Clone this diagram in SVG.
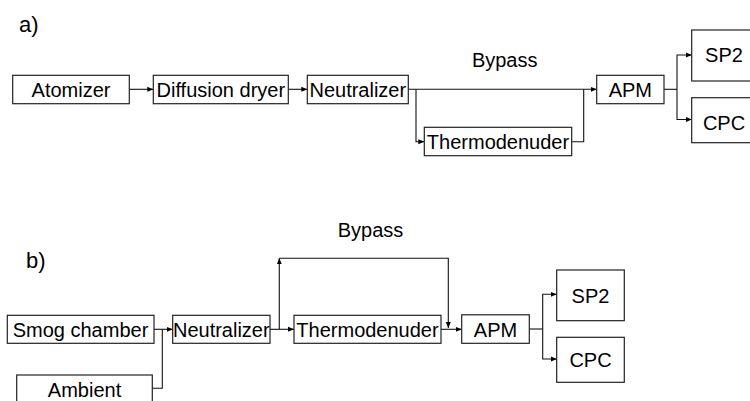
<svg xmlns="http://www.w3.org/2000/svg" width="750" height="401" viewBox="0 0 750 401">
<style>
.box{fill:#fff;stroke:#222;stroke-width:1.2}
.t{font-family:"Liberation Sans",Arial,sans-serif;font-size:20px;fill:#000;text-anchor:middle}
.lbl{font-family:"Liberation Sans",Arial,sans-serif;font-size:22px;fill:#000}
.c{fill:none;stroke:#111;stroke-width:1.1}
</style>
<defs>
<marker id="ah" markerUnits="userSpaceOnUse" markerWidth="6" markerHeight="6" refX="6" refY="3" orient="auto">
<path d="M0,0.5 L6,3 L0,5.5 z" fill="#000"/>
</marker>
</defs>
<rect width="750" height="401" fill="#fff"/>
<text class="lbl" x="19" y="31.5">a)</text>
<text class="lbl" x="26" y="268">b)</text>
<g id="connectors">
<path class="c" d="M129.3,89.3 H153.3" marker-end="url(#ah)"/>
<path class="c" d="M288.3,89.3 H307.3" marker-end="url(#ah)"/>
<path class="c" d="M408.3,89.3 H596.7" marker-end="url(#ah)"/>
<path class="c" d="M416,89.3 V141.7 H424.3" marker-end="url(#ah)"/>
<path class="c" d="M571.7,141.7 H583.7 V89.3"/>
<path class="c" d="M664,89.3 H677"/>
<path class="c" d="M677,89.3 V55 H691.7" marker-end="url(#ah)"/>
<path class="c" d="M677,89.3 V119.5 H691.7" marker-end="url(#ah)"/>
<text class="t" x="504.7" y="66.7">Bypass</text>
<path class="c" d="M154,329.3 H172.7" marker-end="url(#ah)"/>
<path class="c" d="M152.3,388.3 H162.3 V329.3"/>
<path class="c" d="M270,329.3 H294" marker-end="url(#ah)"/>
<path class="c" d="M279.3,329.3 V258.3" marker-end="url(#ah)"/>
<path class="c" d="M279.3,258.3 H448.3 V328" marker-end="url(#ah)"/>
<path class="c" d="M441,329.3 H461.7" marker-end="url(#ah)"/>
<path class="c" d="M529.3,329 H542.7"/>
<path class="c" d="M542.7,329 V294.3 H556.7" marker-end="url(#ah)"/>
<path class="c" d="M542.7,329 V359 H556.7" marker-end="url(#ah)"/>
<text class="t" x="370.5" y="237">Bypass</text>
</g>
<g id="a-atomizer"><rect class="box" x="12.7" y="75.3" width="116.6" height="28.4"/><text class="t" x="71" y="96.7">Atomizer</text></g>
<g id="a-dryer"><rect class="box" x="153.3" y="75.3" width="135" height="28.4"/><text class="t" x="220.8" y="96.7">Diffusion dryer</text></g>
<g id="a-neutralizer"><rect class="box" x="307.3" y="75.3" width="101" height="28.4"/><text class="t" x="357.8" y="96.7">Neutralizer</text></g>
<g id="a-thermodenuder"><rect class="box" x="424.3" y="127.3" width="147.4" height="28.4"/><text class="t" x="498" y="148.7">Thermodenuder</text></g>
<g id="a-apm"><rect class="box" x="596.7" y="75.3" width="67.3" height="28.4"/><text class="t" x="630.3" y="96.7">APM</text></g>
<g id="a-sp2"><rect class="box" x="691.7" y="30" width="70" height="51"/><text class="t" x="724" y="61.7">SP2</text></g>
<g id="a-cpc"><rect class="box" x="691.7" y="97.7" width="70" height="45"/><text class="t" x="724" y="129.5">CPC</text></g>
<g id="b-smog"><rect class="box" x="7.3" y="315.3" width="146.7" height="28"/><text class="t" x="80.5" y="336.5">Smog chamber</text></g>
<g id="b-ambient"><rect class="box" x="16.7" y="375" width="135.6" height="40"/><text class="t" x="84.5" y="396.7">Ambient</text></g>
<g id="b-neutralizer"><rect class="box" x="172.7" y="315.3" width="97.3" height="28"/><text class="t" x="221.3" y="336.5">Neutralizer</text></g>
<g id="b-thermodenuder"><rect class="box" x="294" y="315.3" width="147" height="28"/><text class="t" x="367.5" y="336.5">Thermodenuder</text></g>
<g id="b-apm"><rect class="box" x="461.7" y="314.8" width="67.6" height="28.5"/><text class="t" x="495.5" y="336.5">APM</text></g>
<g id="b-sp2"><rect class="box" x="556.7" y="270" width="67.6" height="50.7"/><text class="t" x="590.5" y="302.5">SP2</text></g>
<g id="b-cpc"><rect class="box" x="556.7" y="337.3" width="67.6" height="45"/><text class="t" x="590.5" y="367">CPC</text></g>
</svg>
